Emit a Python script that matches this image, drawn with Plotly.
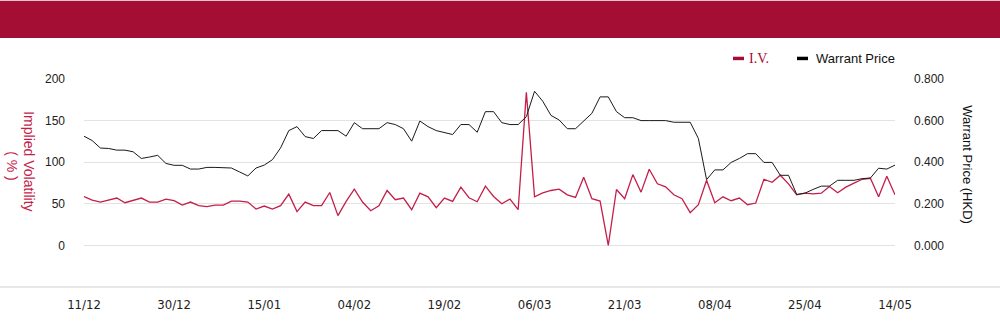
import plotly.graph_objects as go

# ---- data ----
tick_labels = ["11/12", "30/12", "15/01", "04/02", "19/02", "06/03", "21/03", "08/04", "25/04", "14/05"]
label_every = 11

iv = [58.8, 54.5, 52.1, 54.5, 56.9, 51.3, 54.5, 56.9, 52.1, 52.1,
      55.7, 53.7, 48.5, 52.1, 47.7, 46.5, 48.5, 48.5, 53.3, 53.3,
      52.1, 43.7, 47.3, 43.7, 47.7, 61.6, 40.6, 52.1, 47.7, 47.7,
      63.6, 35.8, 52.9, 67.6, 52.1, 41.7, 47.7, 66.0, 54.9, 56.9,
      42.9, 62.8, 58.4, 45.3, 56.9, 52.9, 70.0, 57.3, 52.5, 71.2,
      58.8, 50.1, 55.7, 42.9, 184.1, 58.4, 63.2, 66.0, 67.6, 60.8,
      57.7, 81.9, 56.1, 53.3, 0.0, 67.2, 56.1, 85.1, 64.0, 91.5,
      74.0, 70.4, 60.8, 56.1, 39.4, 48.9, 78.3, 51.3, 58.4, 53.7,
      56.9, 48.9, 50.9, 79.5, 75.9, 84.3, 74.0, 60.8, 62.8, 62.0,
      62.8, 70.8, 63.2, 70.0, 74.8, 79.5, 80.7, 58.4, 83.1, 60.8]

price = [0.525, 0.504, 0.468, 0.466, 0.458, 0.458, 0.450, 0.418, 0.425, 0.433,
         0.394, 0.385, 0.385, 0.367, 0.367, 0.375, 0.375, 0.375, 0.372, 0.353,
         0.334, 0.372, 0.386, 0.412, 0.469, 0.552, 0.571, 0.523, 0.514, 0.552,
         0.552, 0.552, 0.525, 0.590, 0.561, 0.561, 0.561, 0.590, 0.581, 0.561,
         0.501, 0.598, 0.571, 0.552, 0.542, 0.533, 0.581, 0.581, 0.544, 0.643,
         0.643, 0.590, 0.581, 0.581, 0.619, 0.741, 0.693, 0.625, 0.603, 0.561,
         0.561, 0.598, 0.635, 0.714, 0.714, 0.643, 0.614, 0.614, 0.600, 0.600,
         0.600, 0.600, 0.592, 0.592, 0.592, 0.514, 0.316, 0.363, 0.363, 0.399,
         0.418, 0.441, 0.441, 0.399, 0.399, 0.337, 0.337, 0.245, 0.251, 0.269,
         0.285, 0.285, 0.313, 0.313, 0.313, 0.321, 0.324, 0.371, 0.367, 0.386]

x = list(range(len(iv)))
tickvals = [i * label_every for i in range(len(tick_labels))]

IV_COLOR = "#c41e4a"
BRAND = "#a50e34"
SANS = "Liberation Sans, Arial, sans-serif"

fig = go.Figure()
fig.add_trace(go.Scatter(x=x, y=price, yaxis="y2", mode="lines", name="Warrant Price",
                         line=dict(color="#1a1a1a", width=1)))
fig.add_trace(go.Scatter(x=x, y=iv, mode="lines", name="I.V.",
                         line=dict(color=IV_COLOR, width=1.3)))

W, H = 1000, 324
L, R, T, B = 84, 105, 79, 35
pw, ph = W - L - R, H - T - B

def px(xp):
    return (xp - L) / pw

def py(yp):
    return (H - B - yp) / ph

fig.update_layout(
    width=W, height=H,
    margin=dict(l=L, r=R, t=T, b=B, pad=0),
    paper_bgcolor="white", plot_bgcolor="white",
    showlegend=False,
    font=dict(family=SANS, size=12, color="#222"),
    xaxis=dict(range=[0, len(iv) - 1], tickvals=tickvals, ticktext=tick_labels,
               showgrid=False, zeroline=False, showline=False, ticks="",
               tickfont=dict(family="Liberation Sans Narrow, DejaVu Sans Condensed, Arial Narrow, sans-serif",
                             size=13, color="#222"),
               ticklabelstandoff=8),
    yaxis=dict(range=[-50, 200], tickvals=[0, 50, 100, 150, 200],
               showgrid=True, gridcolor="#e3e3e3", gridwidth=1, zeroline=False,
               showline=False, ticks="", ticklabelstandoff=18,
               tickfont=dict(size=12, color="#222")),
    yaxis2=dict(range=[-0.2, 0.8], tickvals=[0, 0.2, 0.4, 0.6, 0.8], tickformat=".3f",
                overlaying="y", side="right", showgrid=False, zeroline=False,
                showline=False, ticks="", ticklabelstandoff=18,
                tickfont=dict(size=12, color="#222")),
)

shapes = [
    # top banner
    dict(type="rect", xref="paper", yref="paper", x0=px(0), x1=px(W), y0=py(37.5), y1=py(0),
         fillcolor=BRAND, line=dict(width=0), layer="below"),
    # bottom separator
    dict(type="line", xref="paper", yref="paper", x0=px(0), x1=px(W), y0=0, y1=0,
         line=dict(color="#cfcfcf", width=1)),
    # legend keys
    dict(type="rect", xref="paper", yref="paper", x0=px(733), x1=px(744), y0=py(60), y1=py(56.5),
         fillcolor=BRAND, line=dict(width=0)),
    dict(type="rect", xref="paper", yref="paper", x0=px(797), x1=px(808), y0=py(60), y1=py(56.5),
         fillcolor="#000", line=dict(width=0)),
]

annotations = [
    dict(text="I.V.", xref="paper", yref="paper", x=px(747), y=py(58.5), xanchor="left", yanchor="middle",
         showarrow=False, font=dict(family="Liberation Serif, Times New Roman, serif", size=14, color=BRAND)),
    dict(text="Warrant Price", xref="paper", yref="paper", x=px(814), y=py(58.5), xanchor="left",
         yanchor="middle", showarrow=False, font=dict(family=SANS, size=13, color="#111")),
    dict(text="Implied Volatility", xref="paper", yref="paper", x=px(29), y=py(162), textangle=90,
         xanchor="center", yanchor="middle", showarrow=False,
         font=dict(family=SANS, size=14, color=IV_COLOR)),
    dict(text="( % )", xref="paper", yref="paper", x=px(12), y=py(167), textangle=90,
         xanchor="center", yanchor="middle", showarrow=False,
         font=dict(family=SANS, size=14, color=IV_COLOR)),
    dict(text="Warrant Price (HKD)", xref="paper", yref="paper", x=px(968), y=py(166), textangle=90,
         xanchor="center", yanchor="middle", showarrow=False,
         font=dict(family=SANS, size=13, color="#111")),
]

fig.update_layout(shapes=shapes, annotations=annotations)
fig.write_html("out.html")
